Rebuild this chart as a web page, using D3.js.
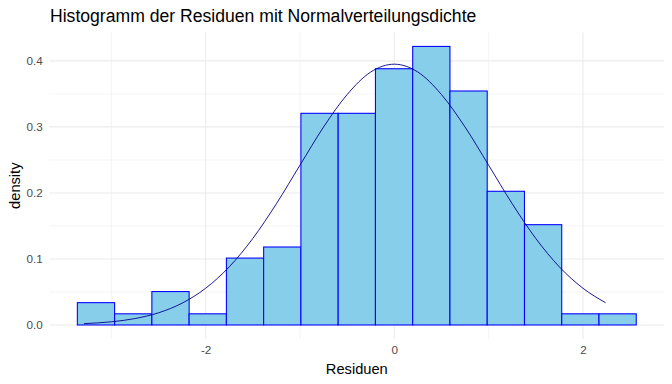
<!DOCTYPE html>
<html>
<head>
<meta charset="utf-8">
<script src="https://cdn.jsdelivr.net/npm/d3@7"></script>
<style>
  body { margin: 0; background: #fff; }
  text { font-family: "Liberation Sans", Arial, sans-serif; }
</style>
</head>
<body>
<svg id="chart" width="672" height="384"></svg>
<script>
// ---- data ----
const binLefts = [-3.36, -2.965, -2.57, -2.175, -1.78, -1.385, -0.99, -0.595, -0.2, 0.195, 0.59, 0.985, 1.38, 1.775, 2.17];
const binWidth = 0.395;
const densities = [0.0338, 0.0169, 0.0506, 0.0169, 0.1013, 0.1181, 0.3206, 0.3206, 0.3881, 0.4219, 0.3544, 0.2025, 0.1519, 0.0169, 0.0169];
const curveX = [-3.29, -3.0, -2.75, -2.5, -2.25, -2.0, -1.75, -1.5, -1.25, -1.0, -0.75, -0.5, -0.25, 0.0, 0.25, 0.5, 0.75, 1.0, 1.25, 1.5, 1.75, 2.0, 2.24];
const curveY = [0.0020, 0.0048, 0.0097, 0.0184, 0.0330, 0.0556, 0.0880, 0.1310, 0.1836, 0.2420, 0.2998, 0.3490, 0.3831, 0.3950, 0.3831, 0.3490, 0.2998, 0.2420, 0.1836, 0.1310, 0.0880, 0.0556, 0.0337];
const xMajorTicks = [-2, 0, 2];
const xTickLabels = ["-2", "0", "2"];
const xMinorTicks = [-3, -1, 1];
const yMajorTicks = [0, 0.1, 0.2, 0.3, 0.4];
const yTickLabels = ["0.0", "0.1", "0.2", "0.3", "0.4"];
const yMinorTicks = [0.05, 0.15, 0.25, 0.35];
const titleText = "Histogramm der Residuen mit Normalverteilungsdichte";
const xLabel = "Residuen";
const yLabel = "density";

// ---- layout ----
const svg = d3.select("#chart");
const panel = { left: 49.4, right: 664.2, top: 32.5, bottom: 338.9 };

const xMin = binLefts[0], xMax = binLefts[binLefts.length - 1] + binWidth;
const xPad = (xMax - xMin) * 0.05;
const x = d3.scaleLinear().domain([xMin - xPad, xMax + xPad]).range([panel.left, panel.right]);
const yMax = d3.max(densities);
const yPad = yMax * 0.05;
const y = d3.scaleLinear().domain([-yPad, yMax + yPad]).range([panel.bottom, panel.top]);

const grid = svg.append("g");
// minor grid
grid.selectAll("line.ymin").data(yMinorTicks).join("line")
  .attr("x1", panel.left).attr("x2", panel.right)
  .attr("y1", d => y(d)).attr("y2", d => y(d))
  .attr("stroke", "#ebebeb").attr("stroke-width", 0.55);
grid.selectAll("line.xmin").data(xMinorTicks).join("line")
  .attr("y1", panel.top).attr("y2", panel.bottom)
  .attr("x1", d => x(d)).attr("x2", d => x(d))
  .attr("stroke", "#ebebeb").attr("stroke-width", 0.55);
// major grid
grid.selectAll("line.ymaj").data(yMajorTicks).join("line")
  .attr("x1", panel.left).attr("x2", panel.right)
  .attr("y1", d => y(d)).attr("y2", d => y(d))
  .attr("stroke", "#ebebeb").attr("stroke-width", 1.07);
grid.selectAll("line.xmaj").data(xMajorTicks).join("line")
  .attr("y1", panel.top).attr("y2", panel.bottom)
  .attr("x1", d => x(d)).attr("x2", d => x(d))
  .attr("stroke", "#ebebeb").attr("stroke-width", 1.07);

// bars
svg.append("g").selectAll("rect").data(densities).join("rect")
  .attr("x", (d, i) => x(binLefts[i]))
  .attr("width", (d, i) => x(binLefts[i] + binWidth) - x(binLefts[i]))
  .attr("y", d => y(d))
  .attr("height", d => y(0) - y(d))
  .attr("fill", "#87ceeb")
  .attr("stroke", "#0000ff")
  .attr("stroke-width", 1.07);

// density curve
const line = d3.line()
  .x((d, i) => x(curveX[i]))
  .y(d => y(d))
  .curve(d3.curveMonotoneX);
svg.append("path")
  .datum(curveY)
  .attr("d", line)
  .attr("fill", "none")
  .attr("stroke", "#00008b")
  .attr("stroke-width", 0.9);

// axes (ticks hidden, as in theme_minimal)
const xAxis = d3.axisBottom(x).tickValues(xMajorTicks).tickSize(0).tickPadding(6.6)
  .tickFormat((d, i) => xTickLabels[i]);
const gx = svg.append("g").attr("transform", `translate(0,${panel.bottom})`).call(xAxis);
gx.select(".domain").remove();
gx.selectAll("text").attr("fill", "#4d4d4d").attr("font-size", "11.7px")
  .attr("font-family", "'Liberation Sans', Arial, sans-serif").attr("dy", "0.71em");

const yAxis = d3.axisLeft(y).tickValues(yMajorTicks).tickSize(0).tickPadding(6.6)
  .tickFormat((d, i) => yTickLabels[i]);
const gy = svg.append("g").attr("transform", `translate(${panel.left},0)`).call(yAxis);
gy.select(".domain").remove();
gy.selectAll("text").attr("fill", "#4d4d4d").attr("font-size", "11.7px")
  .attr("font-family", "'Liberation Sans', Arial, sans-serif");

// titles
svg.append("text").attr("x", panel.left + 0.6).attr("y", 22)
  .attr("font-size", "17.6px").attr("fill", "#000").text(titleText);
svg.append("text").attr("x", (panel.left + panel.right) / 2).attr("y", 374)
  .attr("text-anchor", "middle").attr("font-size", "14.67px").attr("fill", "#000").text(xLabel);
svg.append("text")
  .attr("transform", `translate(20,${(panel.top + panel.bottom) / 2}) rotate(-90)`)
  .attr("text-anchor", "middle").attr("font-size", "14.67px").attr("fill", "#000").text(yLabel);
</script>
</body>
</html>
